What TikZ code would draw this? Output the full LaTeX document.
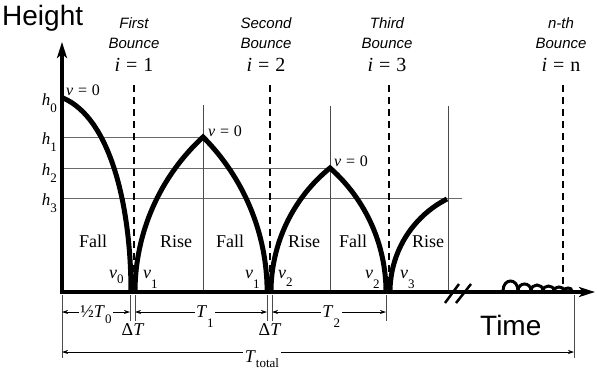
\documentclass[tikz,border=0pt]{standalone}
\usepackage{fontspec}
\setmainfont{Liberation Serif}
\setsansfont{Liberation Sans}
\usetikzlibrary{arrows.meta}
\definecolor{GuideGray}{HTML}{4A4A4A}
\definecolor{LevelGray}{HTML}{6A6A6A}

% lowered subscript in the look of the figure
\newcommand{\lo}[2][7pt]{\raisebox{-#1}{\fontsize{13}{13}\selectfont #2}}
\newcommand{\eqs}{\hspace{0.3em}=\hspace{0.3em}}

\begin{document}
\begin{tikzpicture}[
	x=1pt, y=-1pt,
	axis/.style={line width=4pt, -{Stealth[length=16pt,width=10pt,inset=4pt]}},
	ballpath/.style={line width=5pt, line join=miter},
	hump/.style={line width=3pt},
	guide/.style={draw=GuideGray, line width=0.8pt},
	level/.style={draw=LevelGray, line width=0.9pt},
	bouncemark/.style={line width=1.8pt, dash pattern=on 7pt off 5pt},
	dimline/.style={line width=0.7pt, {Stealth[length=6pt,width=4pt]}-{Stealth[length=6pt,width=4pt]}},
	dimlbl/.style={fill=white, inner sep=1.5pt, anchor=base, yshift=-5pt, font=\fontsize{18}{20}\selectfont},
	extline/.style={draw=GuideGray, line width=0.7pt},
	biglbl/.style={font=\fontsize{28}{30}\selectfont\sffamily, inner sep=0pt},
	bouncelbl/.style={font=\fontsize{15}{18}\selectfont\sffamily\itshape, inner sep=0pt, anchor=base},
	idxlbl/.style={font=\fontsize{20}{22}\selectfont, inner sep=0pt, anchor=base},
	phaselbl/.style={font=\fontsize{18}{20}\selectfont, inner sep=0pt, anchor=base},
	symlbl/.style={font=\fontsize{17}{19}\selectfont, inner sep=0pt},
	]
	
	\useasboundingbox (0,0) rectangle (597,373);
	
	% ---------------------------------------------------------
	% KEY POINTS
	% ---------------------------------------------------------
	
	\coordinate (origin) at (62,292);
	\coordinate (ytip) at (62,42);
	\coordinate (xtip) at (595,292);
	\coordinate (top0) at (63,98);
	\coordinate (top1) at (203,137);
	\coordinate (top2) at (330,168);
	\coordinate (top3) at (447,199);
	
	% ---------------------------------------------------------
	% HEIGHT LEVELS AND GUIDES
	% ---------------------------------------------------------
	
	\draw[level] (62,137) -- (top1);
	\draw[level] (62,168) -- (top2);
	\draw[level] (62,198) -- (462,198);
	
	\draw[guide] (203,105) -- (203,292);
	\draw[guide] (330,106) -- (330,292);
	\draw[guide] (448,106) -- (448,292);
	
	\foreach \x in {134,270,389,563}
	\draw[bouncemark] (\x,85) -- (\x,290);
	
	% ---------------------------------------------------------
	% BALL PATH
	% ---------------------------------------------------------
	
	\draw[ballpath] (top0) .. controls (110,118) and (131,205) .. (131,292);
	\draw[ballpath] (135,292) arc[start angle=180, end angle=132.6, radius=210.6pt]
		arc[start angle=44.9, end angle=0, radius=219.7pt];
	\draw[ballpath] (271,292) arc[start angle=180, end angle=129.1, radius=159.8pt]
		arc[start angle=48.6, end angle=0, radius=165.3pt];
	\draw[ballpath] (390,292) arc[start angle=180, end angle=117.0, radius=104.4pt];
	
	\foreach \s/\e/\h in {503/518/10, 518/531/7, 531/543/6, 543/554/5, 554/564/4, 564/572/3}
	\draw[hump] ({\s},291) .. controls ({\s},{291-4*\h/3}) and ({\e},{291-4*\h/3}) .. ({\e},291);
	
	% ---------------------------------------------------------
	% AXES
	% ---------------------------------------------------------
	
	\draw[axis] (62,294) -- (ytip);
	\draw[axis] (60,292) -- (xtip);
	
	\draw[line width=2.5pt] (445,303) -- (459,284);
	\draw[line width=2.5pt] (456,303) -- (471,284);
	
	\node[biglbl, anchor=base west] (heightlbl) at (2,25) {Height};
	\node[biglbl, anchor=base west] (timelbl) at (480,335) {Time};
	
	% ---------------------------------------------------------
	% BOUNCE LABELS
	% ---------------------------------------------------------
	
	\foreach \x/\word/\idx [count=\k] in {134/First/1, 266/Second/2, 387/Third/3, 561/n-th/n} {
		\node[bouncelbl] (word\k) at (\x,28) {\word};
		\node[bouncelbl] (bounce\k) at (\x,48) {Bounce};
		\node[idxlbl] (idx\k) at (\x,71) {\textit{i}\eqs\idx};
	}
	
	\node[symlbl, anchor=base west, font=\fontsize{16}{18}\selectfont] (still0) at (66,95) {\textit{v}\eqs0};
	\node[symlbl, anchor=base west, font=\fontsize{16}{18}\selectfont] (still1) at (208,136) {\textit{v}\eqs0};
	\node[symlbl, anchor=base west, font=\fontsize{16}{18}\selectfont] (still2) at (334,166) {\textit{v}\eqs0};
	
	\node[symlbl, anchor=base east] (hlbl0) at (57,105) {\textit{h}\lo{0}};
	\node[symlbl, anchor=base east] (hlbl1) at (57,144) {\textit{h}\lo{1}};
	\node[symlbl, anchor=base east] (hlbl2) at (57,175) {\textit{h}\lo{2}};
	\node[symlbl, anchor=base east] (hlbl3) at (57,205) {\textit{h}\lo{3}};
	
	% ---------------------------------------------------------
	% PHASES AND SPEEDS
	% ---------------------------------------------------------
	
	\foreach \x/\phase [count=\k] in {93/Fall, 176/Rise, 230/Fall, 304/Rise, 353/Fall, 428/Rise}
	\node[phaselbl] (phase\k) at (\x,247) {\phase};
	
	\node[phaselbl, anchor=base west] (speed0) at (109,278) {\textit{v}\lo[5pt]{0}};
	\node[phaselbl, anchor=base west] (speed1) at (143,278) {\textit{v}\lo[10pt]{1}};
	\node[phaselbl, anchor=base west] (speed2) at (245,278) {\textit{v}\lo[10pt]{1}};
	\node[phaselbl, anchor=base west] (speed3) at (278,278) {\textit{v}\lo[8pt]{2}};
	\node[phaselbl, anchor=base west] (speed4) at (365,278) {\textit{v}\lo[10pt]{2}};
	\node[phaselbl, anchor=base west] (speed5) at (400,278) {\textit{v}\lo[10pt]{3}};
	
	% ---------------------------------------------------------
	% TIME SPANS
	% ---------------------------------------------------------
	
	\draw[extline] (62,295) -- (62,358);
	\draw[extline] (130,295) -- (130,321);
	\draw[extline] (135,295) -- (135,321);
	\draw[extline] (267,295) -- (267,321);
	\draw[extline] (272,295) -- (272,321);
	\draw[extline] (386,295) -- (386,321);
	\draw[extline] (574,295) -- (574,358);
	
	\draw[dimline] (62,312) -- node[dimlbl, pos=0.5] (halfspan) {½\textit{T}\lo[6pt]{0}} (130,312);
	\draw[dimline] (135,312) -- node[dimlbl, pos=0.53] (span1) {\textit{T}\lo[10pt]{1}} (267,312);
	\draw[dimline] (272,312) -- node[dimlbl, pos=0.52] (span2) {\textit{T}\lo[10pt]{2}} (386,312);
	
	\node[phaselbl] (gap1) at (133,335) {Δ\textit{T}};
	\node[phaselbl] (gap2) at (270,335) {Δ\textit{T}};
	
	\draw[dimline] (62,352) -- (574,352);
	\node[dimlbl, yshift=5pt] (total) at (262,362) {\textit{T}\lo[5pt]{total}};
	
\end{tikzpicture}
\end{document}
